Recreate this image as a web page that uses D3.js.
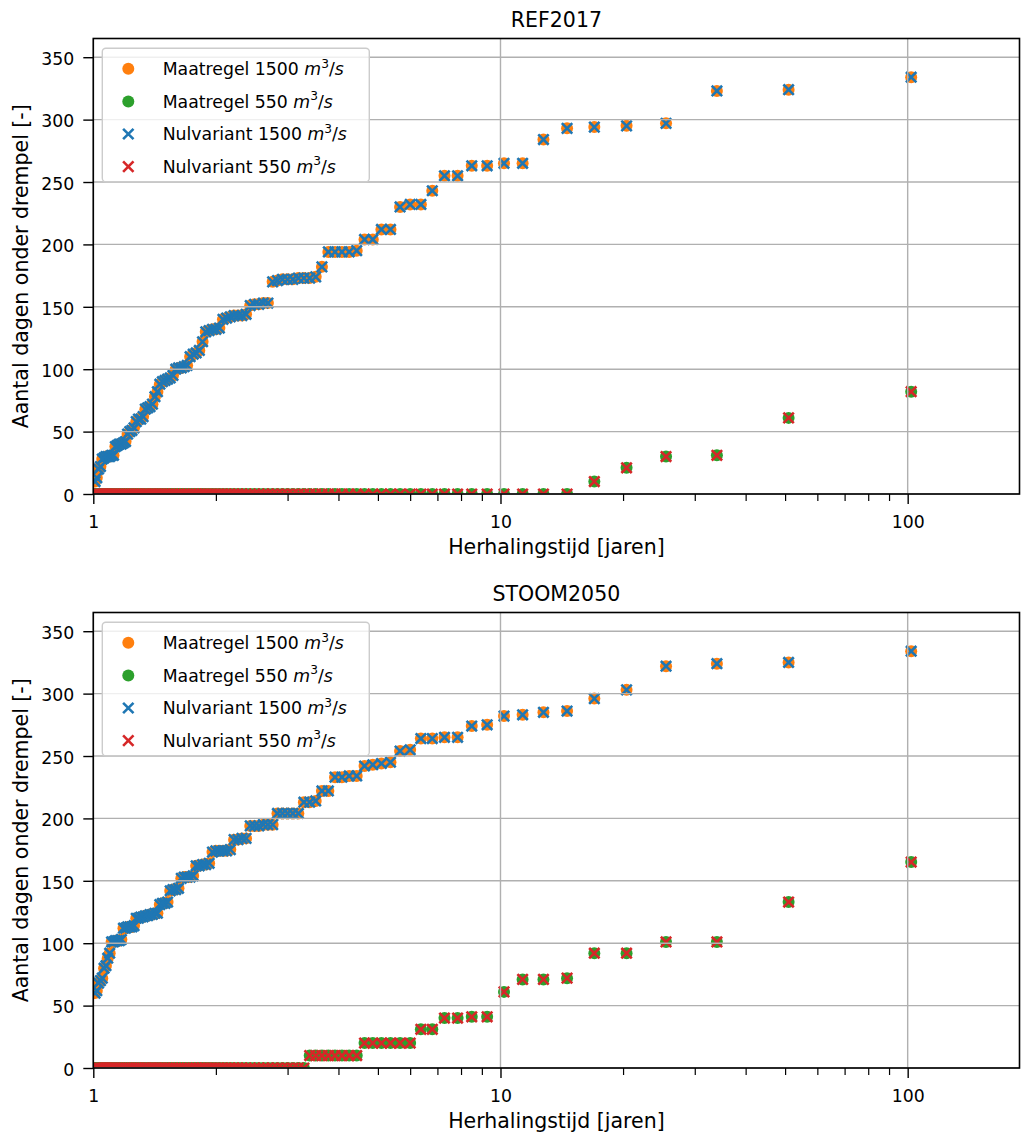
<!DOCTYPE html>
<html>
<head>
<meta charset="utf-8">
<script src="https://cdn.jsdelivr.net/npm/d3@7"></script>
<style>
  html, body { margin: 0; padding: 0; background: #fff; }
  svg { display: block; }
  text { font-family: "DejaVu Sans", sans-serif; fill: #000; }
</style>
</head>
<body>
<svg id="chart" width="1021" height="1133"></svg>
<script>
// Return periods (years) of the ranked yearly values
const returnPeriods = [
  102, 51, 34, 25.5, 20.4, 17, 14.571, 12.75, 11.333, 10.2,
  9.273, 8.5, 7.846, 7.286, 6.8, 6.375, 6, 5.667, 5.368, 5.1,
  4.857, 4.636, 4.435, 4.25, 4.08, 3.923, 3.778, 3.643, 3.517, 3.4,
  3.29, 3.188, 3.091, 3, 2.914, 2.833, 2.757, 2.684, 2.615, 2.55,
  2.488, 2.429, 2.372, 2.318, 2.267, 2.217, 2.17, 2.125, 2.082, 2.04,
  2, 1.962, 1.925, 1.889, 1.855, 1.821, 1.789, 1.759, 1.729, 1.7,
  1.672, 1.645, 1.619, 1.594, 1.569, 1.545, 1.522, 1.5, 1.478, 1.457,
  1.437, 1.417, 1.397, 1.378, 1.36, 1.342, 1.325, 1.308, 1.291, 1.275,
  1.259, 1.244, 1.229, 1.214, 1.2, 1.186, 1.172, 1.159, 1.146, 1.133,
  1.121, 1.109, 1.097, 1.085, 1.074, 1.063, 1.052, 1.041, 1.03, 1.02, 1.01
];

// REF2017 – days below threshold 1500 m3/s
const ref2017_1500 = [
  334, 324, 323, 297, 295, 294, 293, 284, 265, 265,
  263, 263, 255, 255, 243, 232, 232, 230, 212, 212,
  204, 204, 195, 194, 194, 194, 194, 182, 174, 173,
  173, 173, 172, 172, 172, 171, 170, 153, 153, 152,
  152, 151, 144, 143, 143, 143, 142, 141, 140, 133,
  132, 132, 131, 130, 122, 115, 113, 112, 110, 103,
  102, 101, 101, 100, 95, 93, 92, 91, 90, 88,
  82, 78, 72, 70, 69, 68, 62, 60, 60, 58,
  53, 51, 50, 48, 42, 41, 40, 40, 39, 38,
  31, 31, 30, 30, 30, 29, 28, 22, 20, 13, 10
];
// REF2017 – days below threshold 550 m3/s
const ref2017_550 = [
  82, 61, 31, 30, 21, 10, 0, 0, 0, 0,
  0, 0, 0, 0, 0, 0, 0, 0, 0, 0,
  0, 0, 0, 0, 0, 0, 0, 0, 0, 0,
  0, 0, 0, 0, 0, 0, 0, 0, 0, 0,
  0, 0, 0, 0, 0, 0, 0, 0, 0, 0,
  0, 0, 0, 0, 0, 0, 0, 0, 0, 0,
  0, 0, 0, 0, 0, 0, 0, 0, 0, 0,
  0, 0, 0, 0, 0, 0, 0, 0, 0, 0,
  0, 0, 0, 0, 0, 0, 0, 0, 0, 0,
  0, 0, 0, 0, 0, 0, 0, 0, 0, 0, 0
];
// STOOM2050 – days below threshold 1500 m3/s
const stoom2050_1500 = [
  334, 325, 324, 322, 303, 296, 286, 285, 283, 282,
  275, 274, 265, 265, 264, 264, 255, 254, 245, 244,
  243, 242, 234, 234, 233, 233, 222, 222, 214, 213,
  213, 204, 204, 204, 204, 204, 195, 195, 195, 194,
  194, 194, 184, 184, 183, 183, 175, 174, 174, 174,
  174, 173, 164, 163, 163, 162, 162, 154, 153, 153,
  153, 152, 144, 143, 143, 142, 133, 132, 132, 131,
  124, 124, 123, 123, 122, 122, 121, 121, 120, 120,
  114, 113, 113, 113, 112, 112, 103, 102, 102, 102,
  101, 101, 92, 88, 82, 80, 72, 70, 68, 62, 60
];
// STOOM2050 – days below threshold 550 m3/s
const stoom2050_550 = [
  165, 133, 101, 101, 92, 92, 72, 71, 71, 61,
  41, 41, 40, 40, 31, 31, 20, 20, 20, 20,
  20, 20, 10, 10, 10, 10, 10, 10, 10, 10,
  0, 0, 0, 0, 0, 0, 0, 0, 0, 0,
  0, 0, 0, 0, 0, 0, 0, 0, 0, 0,
  0, 0, 0, 0, 0, 0, 0, 0, 0, 0,
  0, 0, 0, 0, 0, 0, 0, 0, 0, 0,
  0, 0, 0, 0, 0, 0, 0, 0, 0, 0,
  0, 0, 0, 0, 0, 0, 0, 0, 0, 0,
  0, 0, 0, 0, 0, 0, 0, 0, 0, 0, 0
];

const panelTitles = ["REF2017", "STOOM2050"];
const seriesLabels = ["Maatregel 1500", "Maatregel 550", "Nulvariant 1500", "Nulvariant 550"];
const seriesMarkers = ["circle", "circle", "x", "x"];
const seriesColors = ["#ff7f0e", "#2ca02c", "#1f77b4", "#d62728"];
const yTickValues = [0, 50, 100, 150, 200, 250, 300, 350];
const xMajorTicks = [1, 10, 100];
const xMinorTicks = [2, 3, 4, 5, 6, 7, 8, 9, 20, 30, 40, 50, 60, 70, 80, 90];
const xDomain = [1, 188.2];
const yDomain = [0, 365];
const xLabel = "Herhalingstijd [jaren]";
const yLabel = "Aantal dagen onder drempel [-]";

const panelSeries = [
  [ref2017_1500, ref2017_550, ref2017_1500, ref2017_550],
  [stoom2050_1500, stoom2050_550, stoom2050_1500, stoom2050_550]
];

const svg = d3.select("#chart");
const left = 93.3, right = 1019.5;
const panelTops = [38.5, 612.5];
const panelH = 455.5;

const x = d3.scaleLog().domain(xDomain).range([left, right]);

const tickFont = 17.3, labelFont = 20.5;

function drawMarker(g, type, color, cx, cy) {
  if (type === "circle") {
    g.append("circle").attr("cx", cx).attr("cy", cy).attr("r", 6.0).attr("fill", color);
  } else {
    const h = 5.2;
    g.append("path")
      .attr("d", `M${cx - h},${cy - h}L${cx + h},${cy + h}M${cx - h},${cy + h}L${cx + h},${cy - h}`)
      .attr("stroke", color).attr("stroke-width", 2.6).attr("fill", "none");
  }
}

panelTitles.forEach((title, pi) => {
  const top = panelTops[pi];
  const bottom = top + panelH;
  const y = d3.scaleLinear().domain(yDomain).range([bottom, top]);
  const g = svg.append("g");

  const clipId = "clip" + pi;
  g.append("clipPath").attr("id", clipId)
    .append("rect").attr("x", left).attr("y", top).attr("width", right - left).attr("height", panelH);

  // Scatter points
  const pts = g.append("g").attr("clip-path", `url(#${clipId})`);
  panelSeries[pi].forEach((vals, si) => {
    const sg = pts.append("g");
    vals.forEach((v, i) => {
      drawMarker(sg, seriesMarkers[si], seriesColors[si], x(returnPeriods[i]), y(v));
    });
  });

  // Grid (drawn above markers, as in the reference)
  const grid = g.append("g").attr("stroke", "#b0b0b0").attr("stroke-width", 1.4);
  yTickValues.forEach(t => {
    grid.append("line").attr("x1", left).attr("x2", right).attr("y1", y(t)).attr("y2", y(t));
  });
  xMajorTicks.forEach(t => {
    grid.append("line").attr("x1", x(t)).attr("x2", x(t)).attr("y1", top).attr("y2", bottom);
  });

  // Axes using d3 axis generators
  const yAxis = d3.axisLeft(y).tickValues(yTickValues).tickSize(10).tickPadding(9).tickFormat(d3.format("d"));
  const ya = g.append("g").attr("transform", `translate(${left},0)`).call(yAxis);
  ya.select(".domain").remove();
  ya.selectAll(".tick line").attr("stroke", "#000").attr("stroke-width", 1.4);
  ya.selectAll(".tick text").attr("font-size", tickFont).attr("font-family", "DejaVu Sans").attr("fill", "#000").attr("dy", "0.42em");

  const xAxis = d3.axisBottom(x).tickValues(xMajorTicks).tickSize(10).tickPadding(8).tickFormat(d3.format("d"));
  const xa = g.append("g").attr("transform", `translate(0,${bottom})`).call(xAxis);
  xa.select(".domain").remove();
  xa.selectAll(".tick line").attr("stroke", "#000").attr("stroke-width", 1.4);
  xa.selectAll(".tick text").attr("font-size", tickFont).attr("font-family", "DejaVu Sans").attr("fill", "#000").attr("dy", "0.95em");

  const xMinor = d3.axisBottom(x).tickValues(xMinorTicks).tickSize(7).tickFormat("");
  const xm = g.append("g").attr("transform", `translate(0,${bottom})`).call(xMinor);
  xm.select(".domain").remove();
  xm.selectAll(".tick line").attr("stroke", "#000").attr("stroke-width", 1.2);

  // Spines
  g.append("rect").attr("x", left).attr("y", top).attr("width", right - left).attr("height", panelH)
    .attr("fill", "none").attr("stroke", "#000").attr("stroke-width", 1.6);

  // Title and labels
  g.append("text").attr("x", (left + right) / 2).attr("y", top - 11.8)
    .attr("text-anchor", "middle").attr("font-size", labelFont).text(title);
  g.append("text").attr("x", (left + right) / 2).attr("y", bottom + 59.5)
    .attr("text-anchor", "middle").attr("font-size", labelFont).text(xLabel);
  g.append("text").attr("transform", `translate(28,${(top + bottom) / 2}) rotate(-90)`)
    .attr("text-anchor", "middle").attr("font-size", labelFont).text(yLabel);

  // Legend
  const lg = g.append("g").attr("transform", `translate(0,${top - 38.5})`);
  lg.append("rect").attr("x", 102.3).attr("y", 48.3).attr("width", 267).attr("height", 133.4)
    .attr("rx", 3.5).attr("ry", 3.5)
    .attr("fill", "#fff").attr("fill-opacity", 0.8)
    .attr("stroke", "#cccccc").attr("stroke-width", 1.4);
  seriesLabels.forEach((lab, si) => {
    const cy = 68.8 + 32.6 * si;
    drawMarker(lg, seriesMarkers[si], seriesColors[si], 128.3, cy);
    const t = lg.append("text").attr("x", 162.7).attr("y", cy + 6.2).attr("font-size", tickFont);
    t.append("tspan").text(lab + " ");
    t.append("tspan").attr("font-style", "italic").text("m");
    t.append("tspan").attr("dy", -7.5).attr("font-size", 12.2).text("3");
    t.append("tspan").attr("dy", 7.5).text("/");
    t.append("tspan").attr("font-style", "italic").text("s");
  });
});
</script>
</body>
</html>
